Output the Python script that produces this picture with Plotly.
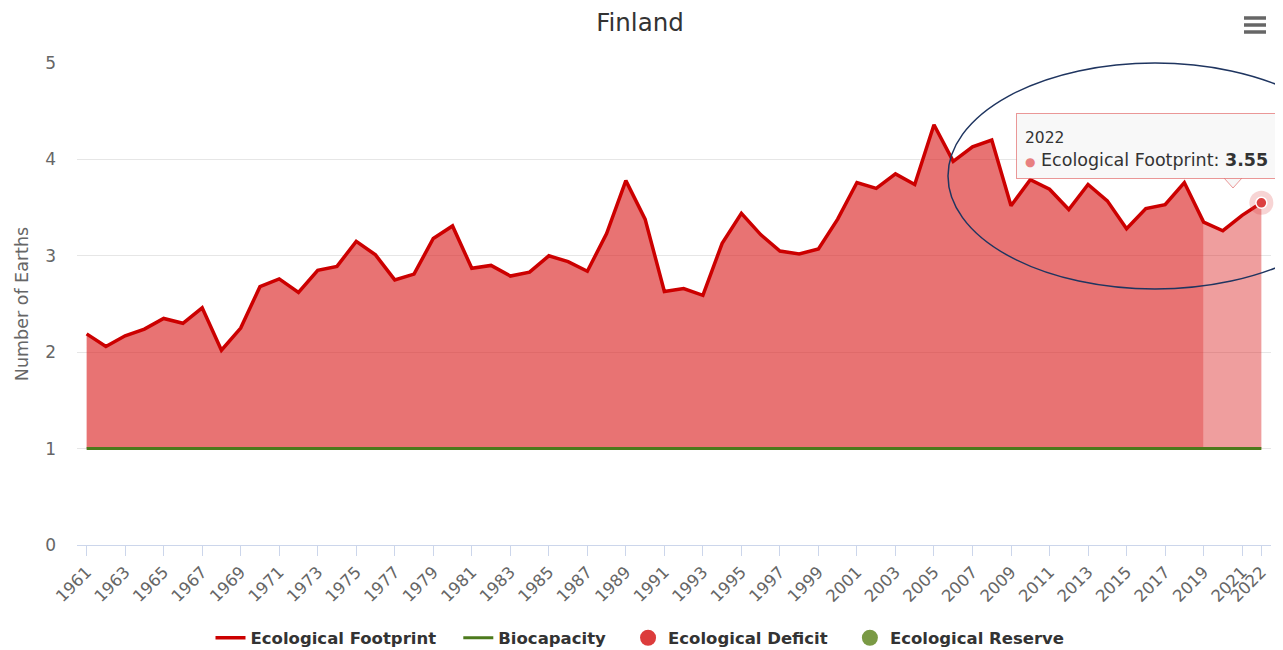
import plotly.graph_objects as go

years = list(range(1961, 2023))
footprint = [2.19, 2.06, 2.17, 2.24, 2.35, 2.30, 2.46, 2.02, 2.25, 2.68,
             2.76, 2.62, 2.85, 2.89, 3.15, 3.01, 2.75, 2.81, 3.18, 3.31,
             2.87, 2.90, 2.79, 2.83, 3.00, 2.94, 2.84, 3.23, 3.78, 3.38,
             2.63, 2.66, 2.59, 3.13, 3.44, 3.22, 3.05, 3.02, 3.07, 3.38,
             3.76, 3.70, 3.85, 3.74, 4.36, 3.98, 4.13, 4.20, 3.52, 3.79,
             3.69, 3.48, 3.74, 3.57, 3.28, 3.49, 3.53, 3.76, 3.35, 3.26,
             3.42, 3.55]
biocapacity = [1.0] * len(years)
last_measured_year = 2019
tick_years = list(range(1961, 2022, 2)) + [2022]
tick_labels = [str(y) for y in tick_years]

FONT = "DejaVu Sans, Verdana, sans-serif"
RED_LINE = "#cc0000"
GREEN_LINE = "#4c7a1c"
GAP = "\u00a0\u00a0\u00a0"

# the page body adds an 8px offset; work in window pixels and compensate
OFF = 8
W, H = 1283 - OFF, 650 - OFF

split = years.index(last_measured_year)
x_a, fp_a, bc_a = years[:split + 1], footprint[:split + 1], biocapacity[:split + 1]
x_b, fp_b, bc_b = years[split:], footprint[split:], biocapacity[split:]

fig = go.Figure()
fig.add_trace(go.Scatter(x=x_a, y=bc_a, mode="lines", line=dict(width=0),
                         showlegend=False, hoverinfo="skip"))
fig.add_trace(go.Scatter(x=x_a, y=fp_a, mode="lines", line=dict(width=0),
                         fill="tonexty", fillcolor="rgba(220,40,40,0.65)",
                         showlegend=False, hoverinfo="skip"))
fig.add_trace(go.Scatter(x=x_b, y=bc_b, mode="lines", line=dict(width=0),
                         showlegend=False, hoverinfo="skip"))
fig.add_trace(go.Scatter(x=x_b, y=fp_b, mode="lines", line=dict(width=0),
                         fill="tonexty", fillcolor="rgba(220,40,40,0.45)",
                         showlegend=False, hoverinfo="skip"))
fig.add_trace(go.Scatter(x=years, y=footprint, mode="lines", name="Ecological Footprint" + GAP,
                         line=dict(color=RED_LINE, width=3.5), cliponaxis=False))
fig.add_trace(go.Scatter(x=years, y=biocapacity, mode="lines", name="Biocapacity" + GAP,
                         line=dict(color=GREEN_LINE, width=3), cliponaxis=False))
fig.add_trace(go.Scatter(x=[None], y=[None], mode="markers", name="Ecological Deficit" + GAP,
                         marker=dict(color="#dc3c3c", size=18)))
fig.add_trace(go.Scatter(x=[None], y=[None], mode="markers", name="Ecological Reserve",
                         marker=dict(color="#7a9a45", size=18)))
fig.add_trace(go.Scatter(x=[years[-1]], y=[footprint[-1]], mode="markers", showlegend=False,
                         marker=dict(color="rgba(220,60,60,0.22)", size=24), hoverinfo="skip",
                         cliponaxis=False))
fig.add_trace(go.Scatter(x=[years[-1]], y=[footprint[-1]], mode="markers", showlegend=False,
                         marker=dict(color="#dc4040", size=11, line=dict(color="white", width=1.5)),
                         hoverinfo="skip", cliponaxis=False))

L, R, T, B = 77 - OFF, 1271 - OFF, 63 - OFF, 545 - OFF
def px(x):
    return (x - OFF - L) / (R - L)
def py(y):
    return (B - (y - OFF)) / (B - T)

shapes = [
    dict(type="circle", xref="paper", yref="paper", x0=px(948), x1=px(1362),
         y0=py(289), y1=py(63), line=dict(color="#1f3560", width=1.5), layer="above"),
    dict(type="path", xref="paper", yref="paper",
         path=f"M {px(1224)},{py(178)} L {px(1233)},{py(188)} L {px(1242)},{py(178)}",
         fillcolor="rgba(247,247,247,0.95)", line=dict(color="rgba(220,70,70,0.55)", width=1),
         layer="above"),
]
for yy in (18, 25, 32):
    shapes.append(dict(type="line", xref="paper", yref="paper", x0=px(1244), x1=px(1266),
                       y0=py(yy), y1=py(yy), line=dict(color="#666666", width=3.5)))

fig.update_layout(
    width=W, height=H,
    margin=dict(l=L, r=W - R, t=T, b=H - B),
    paper_bgcolor="white", plot_bgcolor="white",
    font=dict(family=FONT, color="#666666"),
    title=dict(text="Finland", x=(640 - OFF) / W, xref="container", xanchor="center",
               y=1 - (22.5 - OFF) / H, yref="container", yanchor="middle",
               font=dict(size=24.5, color="#333333", family=FONT)),
    xaxis=dict(range=[1960.5, 2022.5], tickmode="array", tickvals=tick_years,
               ticktext=tick_labels, tickangle=-45, ticks="outside", ticklen=10,
               tickcolor="#ccd6eb", showline=True, linecolor="#ccd6eb", linewidth=1,
               showgrid=False, zeroline=False, tickfont=dict(size=16.5, color="#666666")),
    yaxis=dict(range=[0, 5], tickvals=[0, 1, 2, 3, 4, 5], showgrid=True, gridcolor="#e6e6e6",
               zeroline=False, showline=False, ticklabelstandoff=20,
               tickfont=dict(size=17, color="#666666"),
               title=dict(text="Number of Earths", font=dict(size=17.5, color="#666666"),
                          standoff=12)),
    legend=dict(orientation="h", x=(640 - OFF) / W, xref="container", xanchor="center",
                y=(H - (638 - OFF)) / H, yref="container", yanchor="middle",
                font=dict(size=16.5, color="#333333", family=FONT, weight="bold"),
                itemsizing="trace", itemwidth=30, traceorder="normal"),
    shapes=shapes,
    annotations=[dict(
        xref="paper", yref="paper", x=px(1016), y=py(113), xanchor="left", yanchor="top",
        text="<span style='font-size:15.5px'>2022</span><br>"
             "<span style='color:#e88080;font-size:12px'>●</span> Ecological Footprint: <b>3.55</b>",
        showarrow=False, align="left", width=262, height=48, valign="bottom",
        font=dict(size=17.5, color="#333333", family=FONT),
        bgcolor="rgba(247,247,247,0.92)", bordercolor="rgba(220,70,70,0.55)",
        borderwidth=1, borderpad=8)],
    hovermode=False,
)

fig.write_html("out.html")
